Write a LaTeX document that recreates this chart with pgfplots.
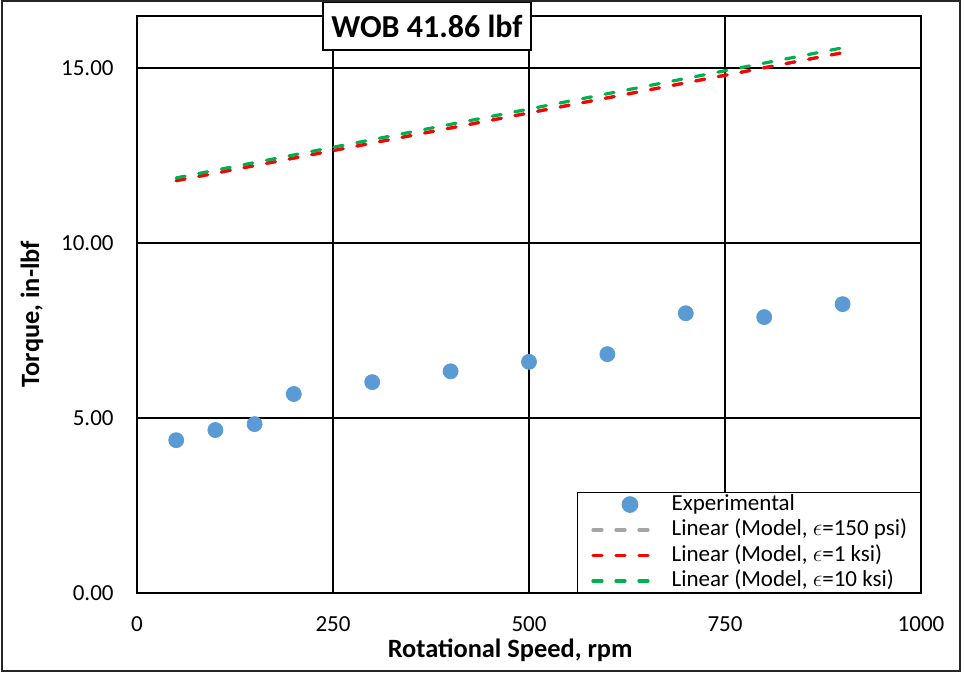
\documentclass[border=0pt]{standalone}
\usepackage{fontspec}
\setmainfont{Carlito}
\usepackage{pgfplots}
\pgfplotsset{compat=1.18}

\definecolor{expblue}{HTML}{5B9BD5}
\definecolor{mgray}{HTML}{A5A5A5}
\definecolor{mred}{HTML}{FF0000}
\definecolor{mgreen}{HTML}{00B050}

\pgfplotsset{
    model/.style={line width=1.6pt, dash pattern=on 4.5pt off 7pt, line cap=round,
        legend image code/.code={\draw[##1] (0pt,0pt) -- (29pt,0pt);}},
    expimg/.style={legend image code/.code={\path (0pt,0pt) (29pt,0pt);
        \draw[##1] plot coordinates {(18.5pt,0pt)};}},
}

\begin{document}
\begin{tikzpicture}
\useasboundingbox (-68.5pt,-40pt) rectangle (413.5pt,296.5pt);
\begin{axis}[
    at={(0,0)}, anchor=south west,
    width=392pt, height=288.5pt, scale only axis,
    xmin=0, xmax=1000, ymin=0, ymax=16.5,
    xtick={0,250,500,750,1000},
    ytick={0,5,10,15},
    grid=major,
    major grid style={black, line width=1pt},
    axis line style={black, line width=1pt},
    major tick length=0pt,
    /pgf/number format/assume math mode=true,
    tick label style={font=\fontsize{11.5}{13}\selectfont},
    x tick label style={/pgf/number format/1000 sep={}, anchor=center, yshift=-15.5pt},
    y tick label style={/pgf/number format/.cd, fixed, fixed zerofill, precision=2, /tikz/.cd,
        anchor=east, inner sep=0pt, xshift=-11.5pt},
    xlabel={Rotational Speed, rpm},
    xlabel style={at={(axis description cs:0.476,-0.0988)}, anchor=center,
        font=\bfseries\fontsize{13.2}{15}\selectfont},
    ylabel={Torque, in-lbf},
    ylabel style={at={(axis description cs:-0.1339,0.4835)}, anchor=center,
        font=\bfseries\fontsize{13.2}{15}\selectfont},
    title={WOB 41.86 lbf},
    title style={at={(axis description cs:0.3699,0.9619)}, anchor=center,
        draw=black, line width=1pt, fill=white, inner sep=0pt,
        minimum width=104pt, minimum height=23.7pt,
        font=\bfseries\fontsize{16}{19}\selectfont},
    legend cell align=left,
    legend style={at={(axis description cs:1,0)}, anchor=south east,
        xshift=0.5pt, yshift=-0.5pt,
        draw=black, line width=0.85pt, fill=white,
        inner xsep=7pt, inner ysep=0.8pt,
        column sep=9.5pt, row sep=2.25pt,
        font=\fontsize{11.5}{13}\selectfont,
        nodes={inner sep=0pt, text height=8pt, text depth=2.5pt}},
]

% Experimental
\addplot[only marks, mark=*, mark size=3.75pt,
    mark options={fill=expblue, draw=expblue}, expimg]
  coordinates {
    (50,4.37) (100,4.66) (150,4.83) (200,5.69) (300,6.03) (400,6.34)
    (500,6.61) (600,6.83) (700,8.00) (800,7.89) (900,8.26)
  };

% Linear (Model, eps=150 psi)
\addplot[model, mgray] coordinates { (50,11.79) (900,15.45) };

% Linear (Model, eps=1 ksi)
\addplot[model, mred] coordinates { (50,11.79) (900,15.45) };

% Linear (Model, eps=10 ksi)
\addplot[model, mgreen] coordinates { (50,11.87) (900,15.59) };

\legend{Experimental,
    {Linear (Model, $\epsilon$=150 psi)},
    {Linear (Model, $\epsilon$=1 ksi)},
    {Linear (Model, $\epsilon$=10 ksi)}}
\end{axis}
\draw[line width=0.85pt, black!85] (-67.65pt,-38.85pt) rectangle (411.5pt,296pt);
\end{tikzpicture}
\end{document}
